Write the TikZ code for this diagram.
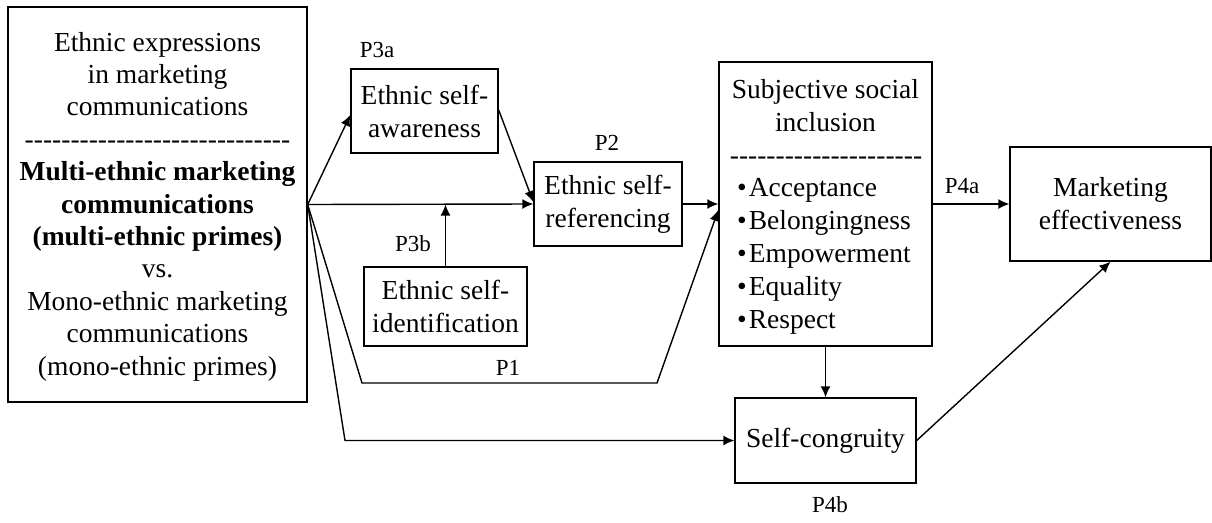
\documentclass[tikz,border=0pt]{standalone}
\usepackage{fontspec}
\setmainfont{Liberation Serif}
\usetikzlibrary{arrows.meta,calc}
\newcommand\dashrow[1]{\count255=0 \loop\mbox{-}\advance\count255 by 1 \ifnum\count255<#1\repeat}
\begin{document}
\begin{tikzpicture}[x=1pt,y=-1pt,
  box/.style={draw,line width=1.4pt,inner sep=0pt,align=center,
    font=\fontsize{27.5}{33}\selectfont},
  lbl/.style={inner sep=0pt,font=\fontsize{23}{27}\selectfont},
  txt/.style={inner sep=0pt,font=\fontsize{27.5}{33}\selectfont},
  conn/.style={line width=1.4pt,-{Latex[length=11pt,width=10pt]}}]
\useasboundingbox (0,0) rectangle (1212,522);
% left box
\node[box,minimum width=299pt,minimum height=395pt] (left) at (157.5,204.5) {};
\node[txt,align=center,font=\fontsize{27.5}{32.4}\selectfont] (lefttext) at (157.5,206.5)
 {Ethnic expressions\\ in marketing\\ communications\\ \dashrow{29}\\
  \textbf{Multi-ethnic marketing}\\ \textbf{communications}\\ \textbf{(multi-ethnic primes)}\\
  vs.\\ Mono-ethnic marketing\\ communications\\ (mono-ethnic primes)};
% middle boxes
\node[box,minimum width=147pt,minimum height=84pt] (aware) at (424.5,111) {Ethnic self-\\awareness};
\node[box,minimum width=148pt,minimum height=84pt] (ref) at (608,204) {Ethnic self-\\referencing};
\node[box,minimum width=163pt,minimum height=79pt] (ident) at (445.5,306.5) {Ethnic self-\\identification};
% SSI
\node[box,minimum width=213pt,minimum height=284pt] (ssi) at (825.5,204) {};
\node[txt,align=center] (ssihead) at (825.5,106) {Subjective social\\inclusion};
\node[txt,anchor=base] (ssidash) at (826,164) {\dashrow{21}};
\node[txt,align=left,anchor=west] (ssilist) at (737,256)
 {•\hspace{2pt}Acceptance\\ •\hspace{2pt}Belongingness\\ •\hspace{2pt}Empowerment\\ •\hspace{2pt}Equality\\ •\hspace{2pt}Respect};
% right boxes
\node[box,minimum width=201pt,minimum height=114pt] (me) at (1110.5,204) {Marketing\\effectiveness};
\node[box,minimum width=181pt,minimum height=85pt] (cong) at (825.5,440.5) {Self-congruity};
% labels
\node[lbl] (p3a) at (377,50) {P3a};
\node[lbl] (p2) at (607,143) {P2};
\node[lbl] (p3b) at (413,244) {P3b};
\node[lbl] (p1) at (508,368) {P1};
\node[lbl] (p4a) at (962,186) {P4a};
\node[lbl] (p4b) at (830,505) {P4b};
% connectors
\coordinate (hub) at (left.east);
\draw[conn] (hub) -- ($(aware.west)+(0,4)$);
\draw[conn] ($(aware.east)+(0,-1)$) -- ($(ref.west)+(0,-2)$);
\draw[conn] (hub) -- (ref.west);
\draw[conn] (ident.north) -- (ident.north |- hub);
\draw[conn] (ref.east) -- (ssi.west |- ref.east);
\coordinate (p1a) at (362,383);
\coordinate (p1b) at (657,383);
\draw[conn] (hub) -- (p1a) -- (p1b) -- ($(ssi.west)+(0,6)$);
\coordinate (sca) at (345,440.5);
\draw[conn] (hub) -- (sca) -- (cong.west);
\draw[conn] (ssi.south) -- (cong.north);
\draw[conn] (ssi.east |- me.west) -- (me.west);
\draw[conn] (cong.east) -- (me.south);
\end{tikzpicture}
\end{document}
